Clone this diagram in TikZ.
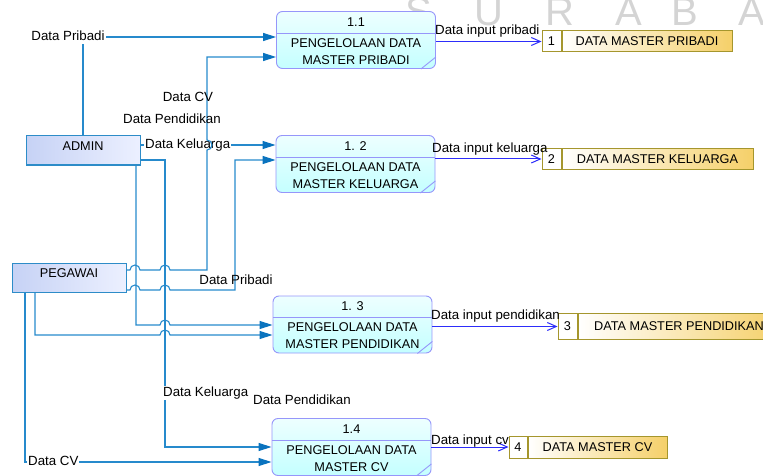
\documentclass[tikz,border=0pt]{standalone}
\usepackage{fontspec}
\setmainfont{Liberation Sans}
\usetikzlibrary{arrows.meta,positioning,calc}

\definecolor{flowblue}{RGB}{38,138,204}
\definecolor{tipblue}{RGB}{10,115,190}
\definecolor{outblue}{RGB}{45,45,250}
\definecolor{procline}{RGB}{150,150,250}
\definecolor{procfill}{RGB}{196,255,255}
\definecolor{storeline}{RGB}{165,150,45}
\definecolor{storefill}{RGB}{245,208,105}
\definecolor{entline}{RGB}{45,140,200}
\definecolor{entfillA}{RGB}{198,210,245}
\definecolor{entfillB}{RGB}{236,240,255}
\definecolor{wmgray}{RGB}{212,212,212}

\begin{document}
\begin{tikzpicture}[x=1pt, y=-1pt,
  font=\fontsize{13.3}{16}\selectfont,
  lab/.style={inner sep=1pt, text height=9.5pt, text depth=2.8pt},
  labw/.style={lab, fill=white},
  ent/.style={draw=entline, line width=1pt, left color=entfillA, right color=entfillB,
    minimum width=114pt, minimum height=29pt, inner sep=0pt, text depth=9pt,
    font=\fontsize{12.7}{15}\selectfont},
  proc/.style={draw=procline, line width=0.9pt, rounded corners=6pt,
    top color=procfill!30, bottom color=procfill, minimum width=159pt,
    minimum height=57pt, inner sep=0pt},
  pline/.style={draw=procline, line width=0.9pt},
  pnum/.style={inner sep=0pt, font=\fontsize{12.7}{15}\selectfont},
  ptxt/.style={inner sep=0pt, align=center, font=\fontsize{12.7}{17}\selectfont},
  store/.style={draw=storeline, line width=1pt, left color=white, right color=storefill,
    minimum height=21pt, inner sep=0pt, font=\fontsize{12.7}{15}\selectfont},
  snum/.style={draw=storeline, line width=1pt, fill=white, minimum height=21pt,
    inner sep=0pt, font=\fontsize{12.7}{15}\selectfont},
  inflow/.style={draw=flowblue, line width=1.1pt,
    -{Triangle[length=13pt, width=8pt, color=tipblue]}},
  outflow/.style={draw=outblue, line width=1pt, -{Straight Barb[length=9pt, width=8pt]}},
  wm/.style={text=wmgray, anchor=base, inner sep=0pt, font=\fontsize{40}{40}\selectfont},
]
  \useasboundingbox (0,0) rectangle (763,476);
  \clip (0,0) rectangle (763,476);

  % watermark
  \node[wm] (wm1) at (418.5,26) {S};
  \node[wm] (wm2) at (488.5,26) {U};
  \node[wm] (wm3) at (560,26) {R};
  \node[wm] (wm4) at (628.5,26) {A};
  \node[wm] (wm5) at (685,26) {B};
  \node[wm] (wm6) at (751.5,26) {A};

  % external entities
  \node[ent] (admin) at (83,150.5) {ADMIN};
  \node[ent] (pegawai) at (69,277.5) {PEGAWAI};

  % processes
  \node[proc] (p1) at (356,40) {};
  \node[proc] (p2) at (355.5,164) {};
  \node[proc] (p3) at (352.5,324.5) {};
  \node[proc] (p4) at (351.5,447) {};
  \draw[pline] ($(p1.north west)+(0,22)$) -- ($(p1.north east)+(0,22)$);
  \draw[pline] ($(p2.north west)+(0,22)$) -- ($(p2.north east)+(0,22)$);
  \draw[pline] ($(p3.north west)+(0,22)$) -- ($(p3.north east)+(0,22)$);
  \draw[pline] ($(p4.north west)+(0,22)$) -- ($(p4.north east)+(0,22)$);
  \draw[pline] ($(p1.south east)+(-15,0)$) -- ($(p1.south east)+(0,-12)$);
  \draw[pline] ($(p2.south east)+(-15,0)$) -- ($(p2.south east)+(0,-12)$);
  \draw[pline] ($(p3.south east)+(-15,0)$) -- ($(p3.south east)+(0,-12)$);
  \draw[pline] ($(p4.south east)+(-15,0)$) -- ($(p4.south east)+(0,-12)$);
  \node[pnum] (p1n) at ($(p1.north)+(0,11)$) {1.1};
  \node[pnum] (p2n) at ($(p2.north)+(0,11)$) {1. 2};
  \node[pnum] (p3n) at ($(p3.north)+(0,11)$) {1. 3};
  \node[pnum] (p4n) at ($(p4.north)+(0,11)$) {1.4};
  \node[ptxt] (p1t) at ($(p1.center)+(0,11.5)$) {PENGELOLAAN DATA\\MASTER PRIBADI};
  \node[ptxt] (p2t) at ($(p2.center)+(0,11.5)$) {PENGELOLAAN DATA\\MASTER KELUARGA};
  \node[ptxt] (p3t) at ($(p3.center)+(0,11.5)$) {PENGELOLAAN DATA\\MASTER PENDIDIKAN};
  \node[ptxt] (p4t) at ($(p4.center)+(0,11.5)$) {PENGELOLAAN DATA\\MASTER CV};

  % data stores
  \node[store, minimum width=170pt] (s1) at (647,41.5) {DATA MASTER PRIBADI};
  \node[snum, minimum width=19pt, left=0pt of s1] (s1n) {1};
  \node[store, minimum width=191pt] (s2) at (657.5,159) {DATA MASTER KELUARGA};
  \node[snum, minimum width=19pt, left=0pt of s2] (s2n) {2};
  \node[store, minimum width=202pt, minimum height=26pt] (s3) at (679,326.5) {DATA MASTER PENDIDIKAN};
  \node[snum, minimum width=19pt, minimum height=26pt, left=0pt of s3] (s3n) {3};
  \node[store, minimum width=139pt, minimum height=22pt] (s4) at (597.5,447) {DATA MASTER CV};
  \node[snum, minimum width=18pt, minimum height=22pt, left=0pt of s4] (s4n) {4};

  % flows into the processes
  \draw[inflow] (admin.north) |- (p1.west |- 0,37);
  \node[labw] (lpri1) at (68,37) {Data Pribadi};
  \draw[inflow] (admin.east |- 0,145) -- (p2.west |- 0,145);
  \node[labw, anchor=west] (lkel1) at (144,145) {Data Keluarga};
  \draw[inflow] (admin.east |- 0,160) -- (165,160) -- (165,447) -- (p4.west |- 0,447);
  \node[labw, anchor=west] (lkel2) at (162,393) {Data Keluarga};
  \draw[inflow] (admin.south -| 136,0) -- (136,325) -- (160,325)
    arc[start angle=180, end angle=0, radius=5pt] -- (p3.west |- 0,325);
  \draw[inflow] (pegawai.east |- 0,270) -- (130,270)
    arc[start angle=180, end angle=0, radius=5pt] -- (160,270)
    arc[start angle=180, end angle=0, radius=5pt] -- (207,270) -- (207,150)
    arc[start angle=-90, end angle=90, radius=5pt] -- (207,57) -- (p1.west |- 0,57);
  \draw[inflow] (pegawai.east |- 0,290) -- (130,290)
    arc[start angle=180, end angle=0, radius=5pt] -- (160,290)
    arc[start angle=180, end angle=0, radius=5pt] -- (235,290) -- (235,160)
    -- (p2.west |- 0,160);
  \draw[inflow] (pegawai.south -| 35,0) -- (35,335) -- (160,335)
    arc[start angle=180, end angle=0, radius=5pt] -- (p3.west |- 0,335);
  \draw[inflow] (pegawai.south -| 25,0) -- (25,462) -- (p4.west |- 0,462);
  \node[labw, anchor=west] (lcv2) at (27,462) {Data CV};

  \node[lab] (lcv1) at (188,98) {Data CV};
  \node[lab] (lpen1) at (172,120) {Data Pendidikan};
  \node[lab] (lpri2) at (236,281) {Data Pribadi};
  \node[lab] (lpen2) at (302,401) {Data Pendidikan};

  % flows into the stores
  \draw[outflow] (p1.east |- s1n.west) -- (s1n.west);
  \draw[outflow] (p2.east |- s2n.west) -- (s2n.west);
  \draw[outflow] (p3.east |- s3n.west) -- (s3n.west);
  \draw[outflow] (p4.east |- s4n.west) -- (s4n.west);
  \node[lab, anchor=west] (lin1) at (434,31) {Data input pribadi};
  \node[lab, anchor=west] (lin2) at (431,149) {Data input keluarga};
  \node[lab, anchor=west] (lin3) at (430,316) {Data input pendidikan};
  \node[lab, anchor=west] (lin4) at (430,441) {Data input cv};
\end{tikzpicture}
\end{document}
